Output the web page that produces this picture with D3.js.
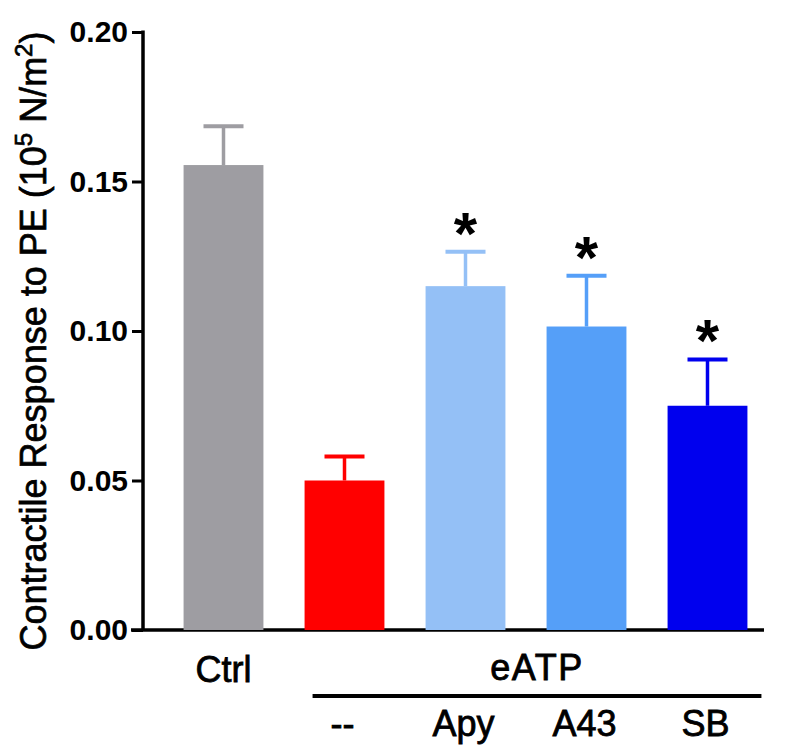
<!DOCTYPE html>
<html>
<head>
<meta charset="utf-8">
<script src="https://cdn.jsdelivr.net/npm/d3@7"></script>
<style>
  body { margin: 0; background: #fff; }
  text { font-family: "Liberation Sans", Arial, sans-serif; }
</style>
</head>
<body>
<svg id="chart" width="800" height="754"></svg>
<script>
// data
var groups = ["Ctrl", "--", "Apy", "A43", "SB"];
var means = [0.1555, 0.0500, 0.1150, 0.1015, 0.0750];
var errs = [0.0130, 0.0080, 0.0115, 0.0170, 0.0155];
var signif = [false, false, true, true, true];
var colors = ["#9e9da2", "#ff0000", "#94c0f6", "#559ff8", "#0000ee"];
var yTicks = [0.00, 0.05, 0.10, 0.15, 0.20];

var svg = d3.select("#chart");

var x = d3.scaleBand()
	.domain(groups)
	.range([163, 768])
	.paddingInner(0.34)
	.paddingOuter(0.17);

var y = d3.scaleLinear()
	.domain([0, 0.20])
	.range([630, 32]);

// y axis
var yAxis = d3.axisLeft(y)
	.tickValues(yTicks)
	.tickFormat(d3.format(".2f"))
	.tickSize(11)
	.tickSizeOuter(0);

var gy = svg.append("g")
	.attr("transform", "translate(143,0)")
	.call(yAxis);
gy.select(".domain").attr("stroke", "#000").attr("stroke-width", 3.5)
	.attr("d", "M0," + (y(0.20) - 1.5) + "V" + y(0));
gy.selectAll(".tick line").attr("stroke", "#000").attr("stroke-width", 3);
gy.selectAll(".tick text")
	.attr("x", -15)
	.attr("font-size", 30)
	.attr("font-weight", "bold")
	.attr("fill", "#000");

// x baseline
svg.append("line")
	.attr("x1", 131).attr("x2", 764)
	.attr("y1", y(0)).attr("y2", y(0))
	.attr("stroke", "#000").attr("stroke-width", 3.5);

// bars
svg.selectAll("rect.bar")
	.data(groups)
	.enter().append("rect")
	.attr("class", "bar")
	.attr("x", function (d) { return x(d); })
	.attr("width", x.bandwidth())
	.attr("y", function (d, i) { return y(means[i]); })
	.attr("height", function (d, i) { return y(0) - y(means[i]); })
	.attr("fill", function (d, i) { return colors[i]; });

// error bars (upper only)
var eb = svg.selectAll("g.err")
	.data(groups)
	.enter().append("g")
	.attr("class", "err");

eb.append("line")
	.attr("x1", function (d) { return x(d) + x.bandwidth() / 2; })
	.attr("x2", function (d) { return x(d) + x.bandwidth() / 2; })
	.attr("y1", function (d, i) { return y(means[i]); })
	.attr("y2", function (d, i) { return y(means[i] + errs[i]); })
	.attr("stroke", function (d, i) { return colors[i]; })
	.attr("stroke-width", 3.5);

eb.append("line")
	.attr("x1", function (d) { return x(d) + x.bandwidth() / 2 - 20; })
	.attr("x2", function (d) { return x(d) + x.bandwidth() / 2 + 20; })
	.attr("y1", function (d, i) { return y(means[i] + errs[i]); })
	.attr("y2", function (d, i) { return y(means[i] + errs[i]); })
	.attr("stroke", function (d, i) { return colors[i]; })
	.attr("stroke-width", 4);

// asterisks
svg.selectAll("text.star")
	.data(groups.filter(function (d, i) { return signif[i]; }))
	.enter().append("text")
	.attr("class", "star")
	.attr("x", function (d) { return x(d) + x.bandwidth() / 2; })
	.attr("y", function (d) { var i = groups.indexOf(d); return y(means[i] + errs[i]) + 2; })
	.attr("text-anchor", "middle")
	.attr("font-size", 60)
	.attr("font-weight", "bold")
	.attr("fill", "#000")
	.text("*");

// category labels (regular face, thickened a little)
function label(sel) {
	return sel.attr("text-anchor", "middle")
		.attr("font-size", 36)
		.attr("stroke", "#000")
		.attr("stroke-width", 0.8);
}

svg.append("text")
	.attr("x", x("Ctrl") + x.bandwidth() / 2)
	.attr("y", 682)
	.call(label)
	.text("Ctrl");

var bx1 = x("--") + 8, bx2 = x("SB") + x.bandwidth() + 14;
svg.append("text")
	.attr("x", (bx1 + bx2) / 2)
	.attr("y", 680)
	.call(label)
	.attr("letter-spacing", 1.5)
	.text("eATP");

svg.append("line")
	.attr("x1", bx1).attr("x2", bx2)
	.attr("y1", 696).attr("y2", 696)
	.attr("stroke", "#000").attr("stroke-width", 4);

svg.selectAll("text.sub")
	.data(groups.slice(1))
	.enter().append("text")
	.attr("class", "sub")
	.attr("x", function (d) { return x(d) + x.bandwidth() / 2 - 2; })
	.attr("y", 736)
	.call(label)
	.text(function (d) { return d; });

// y axis title
var yt = svg.append("text")
	.attr("transform", "translate(46,341) rotate(-90)")
	.attr("text-anchor", "middle")
	.attr("font-size", 36)
	.attr("stroke", "#000")
	.attr("stroke-width", 0.7);
yt.append("tspan").text("Contractile Response to PE (10");
yt.append("tspan").attr("dy", -14).attr("font-size", 24).text("5");
yt.append("tspan").attr("dy", 14).text(" N/m");
yt.append("tspan").attr("dy", -14).attr("font-size", 24).text("2");
yt.append("tspan").attr("dy", 14).text(")");
</script>
</body>
</html>
